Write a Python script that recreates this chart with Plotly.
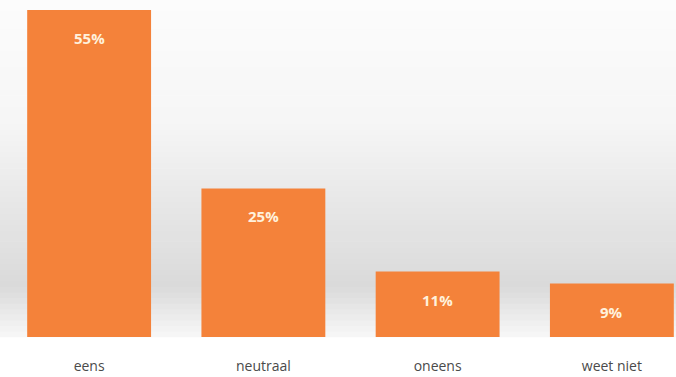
import plotly.graph_objects as go

categories = ["eens", "neutraal", "oneens", "weet niet"]
values = [55, 25, 11, 9]
labels = ["55%", "25%", "11%", "9%"]

fig = go.Figure()
fig.add_trace(go.Bar(
    x=categories, y=values,
    marker=dict(color="#F4823A", line=dict(width=0)),
    hoverinfo="skip",
))

# value labels near top of bars
for c, v, t in zip(categories, values, labels):
    fig.add_annotation(x=c, y=v, text="<b>" + t + "</b>", showarrow=False,
                       yshift=-28, font=dict(family="Open Sans", size=15, color="#FFF1DC"))

# background gradient bands
def lerp(a, b, t):
    return int(round(a + (b - a) * t))

stops = [(0.0, 252), (0.35, 246), (0.7, 226), (0.85, 218), (0.95, 238), (1.0, 248)]
n = 60
shapes = []
for i in range(n):
    y0 = i / n
    y1 = (i + 1) / n
    ym = 1 - (y0 + y1) / 2
    for j in range(len(stops) - 1):
        if stops[j][0] <= ym <= stops[j + 1][0]:
            t = (ym - stops[j][0]) / (stops[j + 1][0] - stops[j][0])
            g = lerp(stops[j][1], stops[j + 1][1], t)
            break
    col = f"rgb({g},{g},{g})"
    shapes.append(dict(type="rect", xref="paper", yref="paper", x0=-0.01, x1=1.01,
                       y0=y0 - 0.001, y1=y1 + 0.001, fillcolor=col, line=dict(width=0),
                       layer="below"))

fig.update_layout(
    width=676, height=377,
    margin=dict(l=2, r=0, t=0, b=40),
    paper_bgcolor="#ffffff", plot_bgcolor="rgba(0,0,0,0)",
    bargap=0.289,
    showlegend=False,
    shapes=shapes,
    xaxis=dict(range=[-0.5, 3.368], showgrid=False, zeroline=False, showline=False,
               ticks="", ticklabelstandoff=19,
               tickfont=dict(family="Open Sans", size=14, color="#4a4a4a")),
    yaxis=dict(range=[0, 56.7], visible=False, showgrid=False, zeroline=False),
)

fig.write_html("out.html")
